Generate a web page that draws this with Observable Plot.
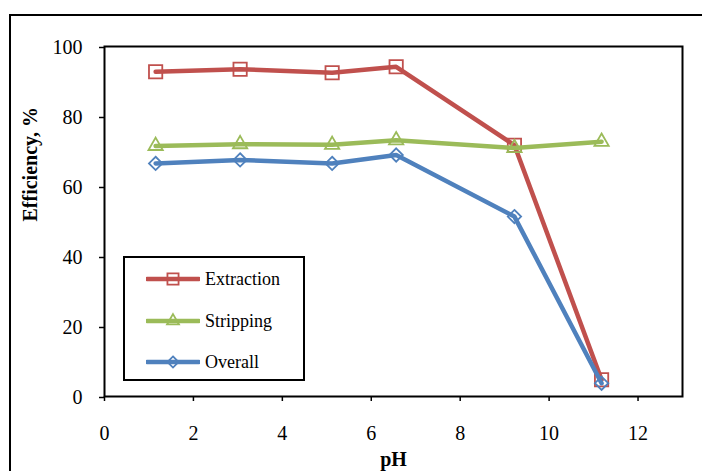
<!DOCTYPE html>
<html><head><meta charset="utf-8">
<script src="https://cdn.jsdelivr.net/npm/d3@7"></script>
<script src="https://cdn.jsdelivr.net/npm/@observablehq/plot@0.6"></script>
<style>
body{margin:0;background:#fff;}
#wrap{position:relative;width:702px;height:471px;overflow:hidden;font-family:"Liberation Serif",serif;}
#border{position:absolute;left:9px;top:14px;width:800px;height:600px;border:2px solid #000;}
#chart{position:absolute;left:0;top:0;}
#legend{position:absolute;left:123px;top:256px;width:178px;height:121px;border:2px solid #000;background:#fff;}
.row{position:absolute;left:0;height:20px;display:flex;align-items:center;font-family:"Liberation Serif",serif;font-size:18px;color:#000;}
.row svg{margin-left:21px;margin-right:5px;}
</style></head>
<body><div id="wrap"><div id="border"></div><div id="chart"></div><div id="legend"></div></div>
<script>
const pH = [1.15, 3.05, 5.12, 6.56, 9.22, 11.18];
const extraction = [92.8, 93.5, 92.5, 94.2, 71.8, 4.8];
const stripping = [71.6, 72.1, 71.9, 73.2, 71.0, 72.8];
const overall = [66.6, 67.6, 66.6, 69.0, 51.4, 3.8];
const seriesNames = ["Extraction", "Stripping", "Overall"];
const seriesColors = ["#C0504D", "#9BBB59", "#4F81BD"];
const seriesSymbols = ["square", "triangle", "diamond2"];
const seriesR = [7.5, 5.3, 6];
const xTicks = [0, 2, 4, 6, 8, 10, 12];
const yTicks = [0, 20, 40, 60, 80, 100];
const xTitle = "pH";
const yTitle = "Efficiency, %";

const seriesValues = [extraction, stripping, overall];
const marks = [];
seriesValues.forEach((vals, i) => {
  const data = pH.map((x, j) => ({x, y: vals[j]}));
  marks.push(Plot.line(data, {x: "x", y: "y", stroke: seriesColors[i], strokeWidth: 4.5, strokeLinejoin: "round"}));
  marks.push(Plot.dot(data, {x: "x", y: "y", symbol: () => seriesSymbols[i], r: seriesR[i], stroke: seriesColors[i], strokeWidth: 1.8, fill: "none"}));
});

const chart = Plot.plot({
  width: 702, height: 471,
  marginLeft: 104, marginTop: 46, marginRight: 20, marginBottom: 75,
  style: {fontFamily: "'Liberation Serif', serif", fontSize: "20px", color: "#000", background: "transparent"},
  x: {domain: [0, 13]},
  y: {domain: [0, 100]},
  marks: [
    Plot.axisX({ticks: xTicks, tickSize: 5, tickPadding: 24, fontSize: 20, label: null, strokeWidth: 1.5}),
    Plot.axisY({ticks: yTicks, tickSize: 5, tickPadding: 17, fontSize: 20, label: null, strokeWidth: 1.5, dy: 1}),
    ...marks,
    Plot.frame({stroke: "#000", strokeWidth: 2}),
    Plot.text([xTitle], {frameAnchor: "bottom", dy: 69, fontWeight: "bold", fontSize: 20, text: d => d}),
    Plot.text([yTitle], {frameAnchor: "left", dx: -74, rotate: -90, fontWeight: "bold", fontSize: 20, text: d => d})
  ]
});
document.getElementById("chart").appendChild(chart);

const legend = document.getElementById("legend");
const rowCenters = [21, 63, 104];
seriesNames.forEach((name, i) => {
  const row = document.createElement("div");
  row.className = "row";
  row.style.top = (rowCenters[i] - 10) + "px";
  const svg = d3.create("svg").attr("width", 54).attr("height", 20);
  svg.append("line").attr("x1", 1).attr("x2", 53).attr("y1", 10).attr("y2", 10)
    .attr("stroke", seriesColors[i]).attr("stroke-width", 4.5).attr("stroke-linecap", "round");
  const symMap = {square: d3.symbolSquare, triangle: d3.symbolTriangle, diamond2: d3.symbolDiamond2};
  svg.append("path").attr("transform", "translate(27,10)")
    .attr("d", d3.symbol(symMap[seriesSymbols[i]], Math.PI * seriesR[i] * seriesR[i] * 0.7)())
    .attr("fill", "none").attr("stroke", seriesColors[i]).attr("stroke-width", 1.8);
  row.appendChild(svg.node());
  const span = document.createElement("span");
  span.textContent = name;
  row.appendChild(span);
  legend.appendChild(row);
});
</script>
</body></html>
